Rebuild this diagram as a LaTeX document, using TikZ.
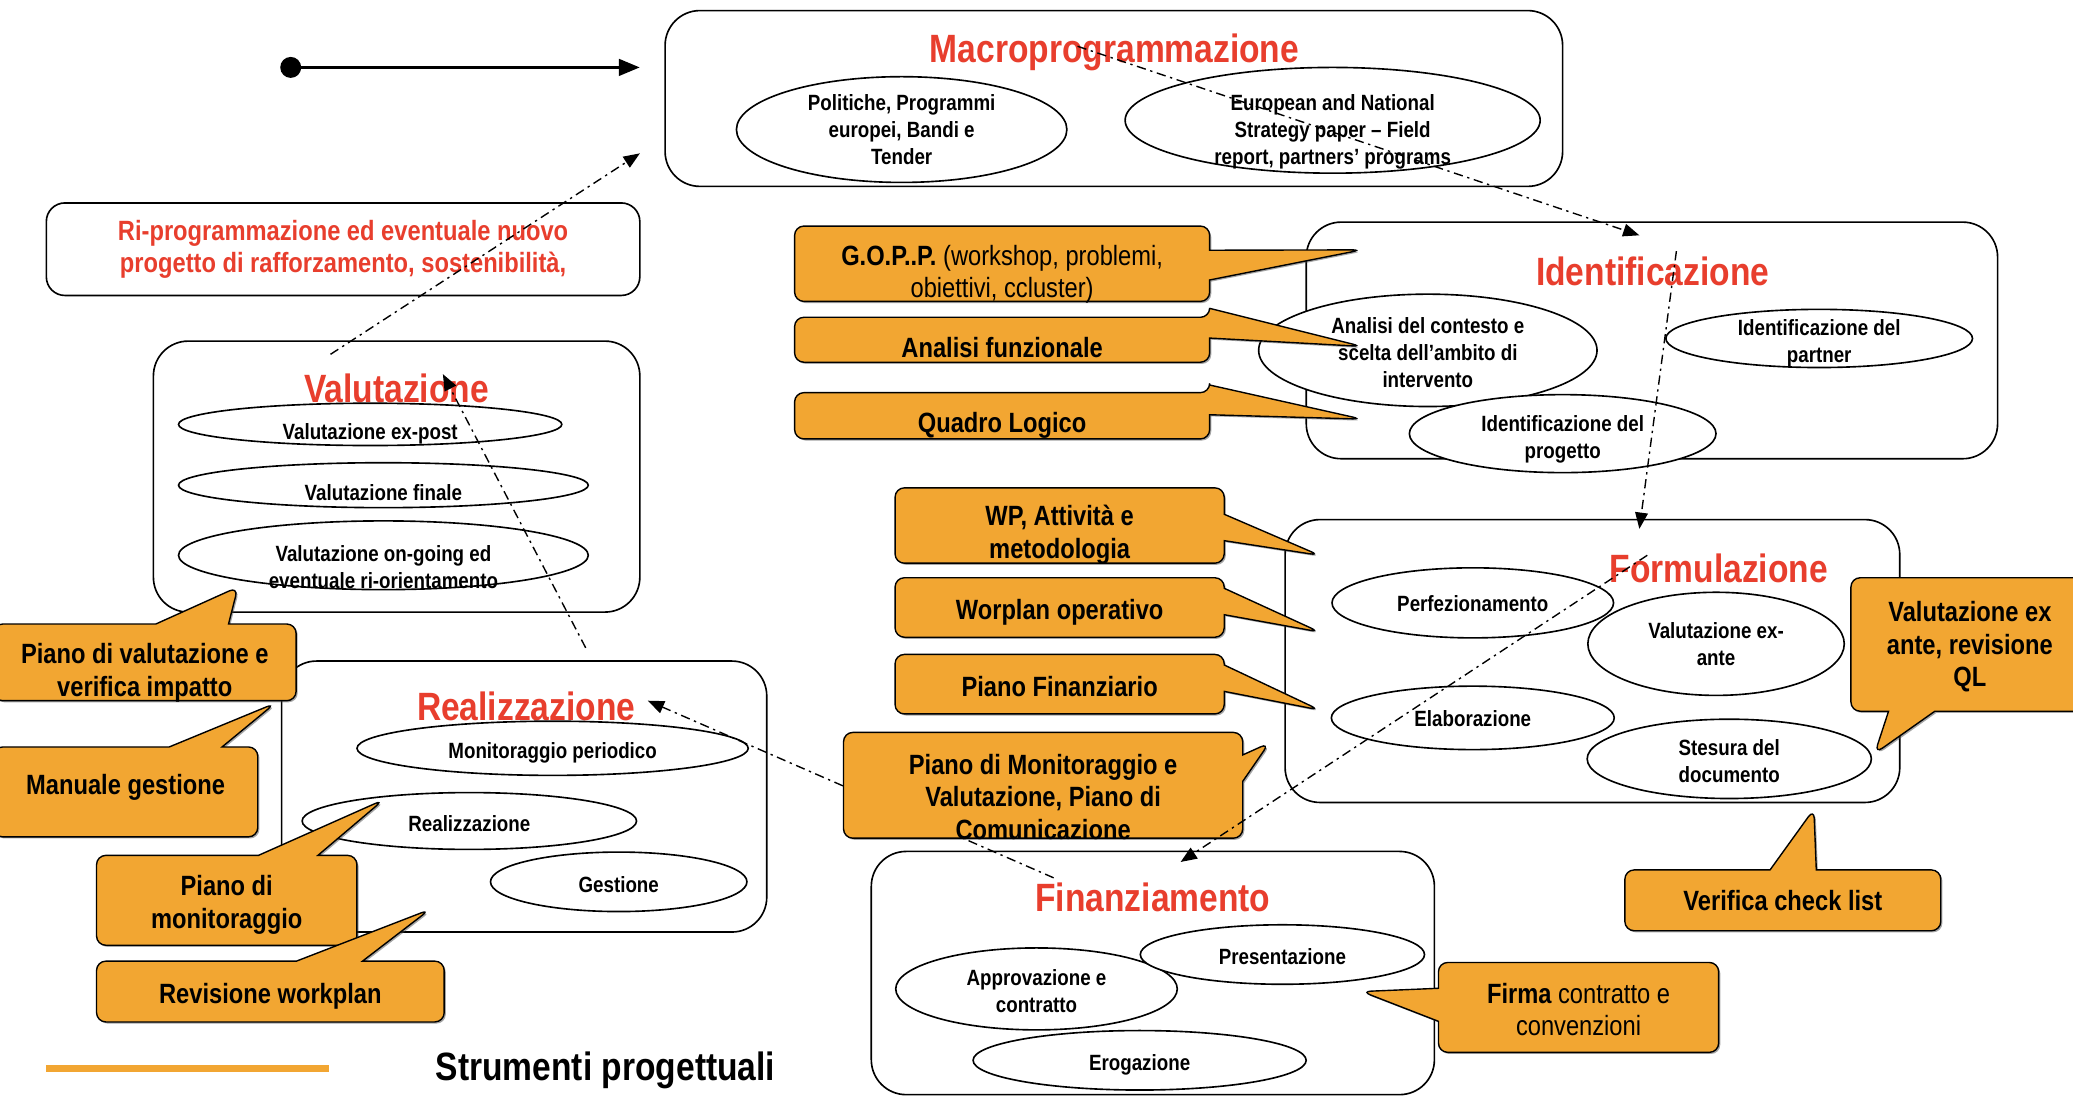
\documentclass[tikz,border=0pt]{standalone}
\usepackage{fontspec}
\setmainfont[FakeStretch=0.85]{Liberation Sans}
\usepackage{tikz}
\usetikzlibrary{shapes.geometric, shapes.callouts, arrows.meta, shadows}
\definecolor{phasered}{RGB}{232,62,45}
\definecolor{toolorange}{RGB}{242,166,50}

\begin{document}
\begin{tikzpicture}[
    x=0.02cm, y=-0.02cm,
    phase/.style={draw, fill=white, rounded corners=15pt, line width=0.7pt},
    phasetitle/.style={font=\bfseries\fontsize{17}{20}\selectfont, text=phasered, inner sep=0pt},
    task/.style={draw, ellipse, fill=white, inner sep=0pt, line width=0.7pt},
    tasktext/.style={font=\bfseries\fontsize{9.5}{11.5}\selectfont, align=center, inner sep=0pt, yshift=-1pt},
    tool/.style={rectangle callout, draw, fill=toolorange, rounded corners=4pt, line width=0.6pt, inner sep=0pt,
        drop shadow={shadow xshift=0.7pt, shadow yshift=-0.7pt, fill=black!70}},
    tooltext/.style={font=\bfseries\fontsize{12}{14}\selectfont, align=center, inner sep=0pt,
        execute at begin node={\rule{0pt}{15pt}}},
    flow/.style={line width=0.6pt, dash pattern=on 4pt off 2pt on 1pt off 2pt, -{Triangle[length=7pt, width=5.5pt]}}
]
    \useasboundingbox[fill=white] (0,0) rectangle (1568,830);

    % Phases
    \node[phase, minimum width=13.58cm, minimum height=2.66cm] (macro) at (842.5,74.5) {};
    \node[phase, rounded corners=8pt, minimum width=8.98cm, minimum height=1.4cm, text=phasered,
          font=\bfseries\fontsize{12}{14}\selectfont, align=center] (riprog) at (259.5,188.5)
        {Ri-programmazione ed eventuale nuovo\\progetto di rafforzamento, sostenibilità,};
    \node[phase, minimum width=7.36cm, minimum height=4.1cm] (valut) at (300,360.5) {};
    \node[phase, minimum width=7.34cm, minimum height=4.1cm] (realiz) at (396.5,602.5) {};
    \node[phase, minimum width=10.46cm, minimum height=3.58cm] (ident) at (1249.5,257.5) {};
    \node[phase, minimum width=9.3cm, minimum height=4.28cm] (formul) at (1204.5,500) {};
    \node[phase, minimum width=8.52cm, minimum height=3.68cm] (finanz) at (872,736) {};

    % Titles
    \node[phasetitle] (macro-t) at (843,40) {Macroprogrammazione};
    \node[phasetitle] (valut-t) at (300,294) {Valutazione};
    \node[phasetitle] (realiz-t) at (398,534) {Realizzazione};
    \node[phasetitle] (ident-t) at (1250,205) {Identificazione};
    \node[phasetitle] (formul-t) at (1300,430) {Formulazione};
    \node[phasetitle] (finanz-t) at (872,679) {Finanziamento};

    % Activities
    \node[task, minimum width=5cm, minimum height=1.6cm, label={[tasktext, yshift=1pt]center:Politiche, Programmi\\europei, Bandi e\\Tender}] (pol) at (682,98) {};
    \node[task, minimum width=6.28cm, minimum height=1.6cm, label={[tasktext, yshift=-4pt]center:European and National\\Strategy paper -- Field\\report, partners' programs}] (eur) at (1008,91) {};
    \node[task, minimum width=5.8cm, minimum height=0.64cm, label={[tasktext, yshift=-3pt]center:Valutazione ex-post}] (expost) at (280,321) {};
    \node[task, minimum width=6.2cm, minimum height=0.68cm, label={[tasktext, yshift=-2pt]center:Valutazione finale}] (vfinale) at (290,367) {};
    \node[task, minimum width=6.2cm, minimum height=1.04cm, label={[tasktext, yshift=-4pt]center:Valutazione on-going ed\\eventuale ri-orientamento}] (ongoing) at (290,420) {};
    \node[task, minimum width=5.92cm, minimum height=0.82cm, label={[tasktext, yshift=-1pt]center:Monitoraggio periodico}] (monit) at (418,566) {};
    \node[task, minimum width=5.06cm, minimum height=0.86cm, label={[tasktext]center:Realizzazione}] (realact) at (355,621) {};
    \node[task, minimum width=3.88cm, minimum height=0.9cm, label={[tasktext]center:Gestione}] (gest) at (468,667) {};
    \node[task, minimum width=5.12cm, minimum height=1.7cm, label={[tasktext]center:Analisi del contesto e\\scelta dell'ambito di\\intervento}] (analisi) at (1080,265) {};
    \node[task, minimum width=4.64cm, minimum height=0.88cm, label={[tasktext, yshift=-1pt]center:Identificazione del\\partner}] (partner) at (1376,256) {};
    \node[task, minimum width=4.64cm, minimum height=1.18cm, label={[tasktext, yshift=-1.5pt]center:Identificazione del\\progetto}] (progetto) at (1182,328) {};
    \node[task, minimum width=4.26cm, minimum height=1.06cm, label={[tasktext, yshift=0.5pt]center:Perfezionamento}] (perfez) at (1114,456) {};
    \node[task, minimum width=3.88cm, minimum height=1.56cm, label={[tasktext, yshift=1pt]center:Valutazione ex-\\ante}] (exante) at (1298,487) {};
    \node[task, minimum width=4.28cm, minimum height=0.96cm, label={[tasktext, yshift=0.5pt]center:Elaborazione}] (elabor) at (1114,543) {};
    \node[task, minimum width=4.3cm, minimum height=1.2cm, label={[tasktext]center:Stesura del\\documento}] (stesura) at (1308,574) {};
    \node[task, minimum width=4.26cm, minimum height=1.24cm, label={[tasktext]center:Approvazione e\\contratto}] (approv) at (784,748) {};
    \node[task, minimum width=4.3cm, minimum height=0.9cm, label={[tasktext]center:Presentazione}] (present) at (970,722) {};
    \node[task, minimum width=5.04cm, minimum height=0.9cm, label={[tasktext, yshift=-1pt]center:Erogazione}] (eroga) at (862,802) {};

    % Cycle
    \coordinate (start) at (212,51);
    \coordinate (start-end) at (484,51);
    \coordinate (vm-a) at (250,268);
    \coordinate (vm-b) at (484,116);
    \coordinate (mi-a) at (815,35);
    \coordinate (mi-b) at (1240,178);
    \coordinate (if-a) at (1268,190);
    \coordinate (if-b) at (1240,400);
    \coordinate (ff-a) at (1246,420);
    \coordinate (ff-b) at (893,652);
    \coordinate (fr-a) at (797,664);
    \coordinate (fr-b) at (490,530);
    \coordinate (rv-a) at (443,490);
    \coordinate (rv-b) at (335,283);

    \draw[line width=1.5pt, {Circle[length=9pt]}-{Triangle[length=9pt, width=7pt]}] (start) -- (start-end);
    \draw[flow] (vm-a) -- (vm-b);
    \draw[flow] (mi-a) -- (mi-b);
    \draw[flow] (if-a) -- (if-b);
    \draw[flow] (fr-a) -- (fr-b);
    \draw[flow] (rv-a) -- (rv-b);

    % Tools
    \node[tool, minimum width=6.28cm, minimum height=1.14cm, callout absolute pointer={(1030,189)}, callout pointer width=0.45cm,
          label={[tooltext, yshift=-4.5pt]center:G.O.P..P. {\mdseries (workshop, problemi,}\\{\mdseries obiettivi, ccluster)}}] (gopp) at (758,199.5) {};
    \node[tool, minimum width=6.28cm, minimum height=0.68cm, callout absolute pointer={(1030,262)}, callout pointer width=0.45cm,
          label={[tooltext]center:Analisi funzionale}] (funz) at (758,257) {};
    \node[tool, minimum width=6.28cm, minimum height=0.7cm, callout absolute pointer={(1030,317)}, callout pointer width=0.45cm,
          label={[tooltext, yshift=-1pt]center:Quadro Logico}] (qlog) at (758,314.5) {};
    \node[tool, minimum width=4.98cm, minimum height=1.14cm, callout absolute pointer={(998,420)}, callout pointer width=0.4cm,
          label={[tooltext, yshift=-4pt]center:WP, Attività e\\metodologia}] (wp) at (801.5,397.5) {};
    \node[tool, minimum width=4.98cm, minimum height=0.9cm, callout absolute pointer={(998,478)}, callout pointer width=0.4cm,
          label={[tooltext, yshift=1pt]center:Worplan operativo}] (worpl) at (801.5,459.5) {};
    \node[tool, minimum width=4.98cm, minimum height=0.9cm, callout absolute pointer={(998,537)}, callout pointer width=0.4cm,
          label={[tooltext, yshift=2pt]center:Piano Finanziario}] (pfin) at (801.5,517.5) {};
    \node[tool, minimum width=6.04cm, minimum height=1.6cm, callout absolute pointer={(960,562)}, callout pointer width=0.4cm,
          label={[tooltext, yshift=-5pt]center:Piano di Monitoraggio e\\Valutazione, Piano di\\Comunicazione}] (pmv) at (789,594) {};
    \node[tool, minimum width=3.6cm, minimum height=2.02cm, callout absolute pointer={(1418,570)}, callout pointer width=0.7cm,
          label={[tooltext, yshift=-1pt]center:Valutazione ex\\ante, revisione\\QL}] (exql) at (1490,487.5) {};
    \node[tool, minimum width=4.78cm, minimum height=0.92cm, callout absolute pointer={(1372,612)}, callout pointer width=0.7cm,
          label={[tooltext, yshift=3pt]center:Verifica check list}] (check) at (1348.5,681) {};
    \node[tool, minimum width=4.24cm, minimum height=1.36cm, callout absolute pointer={(1030,750)}, callout pointer width=0.5cm,
          label={[tooltext, yshift=-1pt]center:Firma {\mdseries contratto e}\\{\mdseries convenzioni}}] (firma) at (1194,762) {};
    \node[tool, minimum width=4.58cm, minimum height=1.16cm, callout absolute pointer={(180,444)}, callout pointer width=1.1cm,
          label={[tooltext, yshift=-4.5pt]center:Piano di valutazione e\\verifica impatto}] (pval) at (109.5,501) {};
    \node[tool, minimum width=4cm, minimum height=1.36cm, callout absolute pointer={(208,532)}, callout pointer width=0.8cm,
          label={[tooltext, yshift=5pt]center:Manuale gestione}] (manu) at (95,599) {};
    \node[tool, minimum width=3.94cm, minimum height=1.36cm, callout absolute pointer={(290,605)}, callout pointer width=0.9cm,
          label={[tooltext, yshift=-2pt]center:Piano di\\monitoraggio}] (pmon) at (171.5,681) {};
    \node[tool, minimum width=5.26cm, minimum height=0.92cm, callout absolute pointer={(325,688)}, callout pointer width=1cm,
          label={[tooltext, yshift=1pt]center:Revisione workplan}] (revw) at (204.5,750) {};

    \draw[flow] (ff-a) -- (ff-b);

    % Legend
    \coordinate (leg-a) at (35,808);
    \coordinate (leg-b) at (249,808);
    \draw[toolorange, line width=3pt] (leg-a) -- (leg-b);
    \node[font=\bfseries\fontsize{17}{20}\selectfont, inner sep=0pt] (legend) at (458,810) {Strumenti progettuali};
\end{tikzpicture}
\end{document}
